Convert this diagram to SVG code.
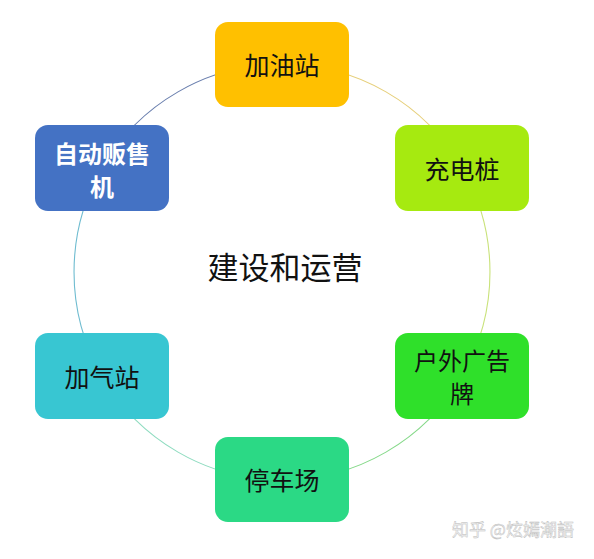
<svg xmlns="http://www.w3.org/2000/svg" width="594" height="559" viewBox="0 0 594 559">
<style>
.arc{fill:none;stroke-width:1.1}
.box{stroke:none}
.lbl{font-family:"Noto Sans CJK SC","Noto Sans",sans-serif;font-size:25px;text-anchor:middle;dominant-baseline:central;fill:#111}
.two{font-size:24px}
.wm{font-family:"Noto Sans CJK SC",sans-serif;font-size:17px;fill:#f4f4f4;stroke:#b8b8b8;stroke-width:0.4}
</style>
<rect width="594" height="559" fill="#ffffff"/>
<g id="connectors">
<path class="arc" stroke="#6a7fae" d="M 282 64 A 208 208 0 0 0 101.9 168"/>
<path class="arc" stroke="#e6cf7a" d="M 282 64 A 208 208 0 0 1 462.1 168"/>
<path class="arc" stroke="#c9e27a" d="M 462.1 168 A 208 208 0 0 1 462.1 376"/>
<path class="arc" stroke="#86d98a" d="M 462.1 376 A 208 208 0 0 1 282 480"/>
<path class="arc" stroke="#8fdcc0" d="M 282 480 A 208 208 0 0 1 101.9 376"/>
<path class="arc" stroke="#6fbcd0" d="M 101.9 376 A 208 208 0 0 1 101.9 168"/>
</g>
<g id="node-jiayouzhan">
<rect class="box" x="215" y="22" width="134" height="85" rx="13" fill="#ffc000"/>
<text class="lbl" x="282" y="64">加油站</text>
</g>
<g id="node-chongdianzhuang">
<rect class="box" x="395" y="125" width="134" height="86" rx="13" fill="#a6ea10"/>
<text class="lbl" x="462" y="168">充电桩</text>
</g>
<g id="node-huwai">
<rect class="box" x="395" y="333" width="134" height="86" rx="13" fill="#2fe02a"/>
<text class="lbl two" x="462" y="359">户外广告</text>
<text class="lbl two" x="462" y="392">牌</text>
</g>
<g id="node-tingchechang">
<rect class="box" x="215" y="437" width="134" height="85" rx="13" fill="#2bd985"/>
<text class="lbl" x="282" y="479">停车场</text>
</g>
<g id="node-jiaqizhan">
<rect class="box" x="35" y="333" width="134" height="86" rx="13" fill="#38c6d2"/>
<text class="lbl" x="102" y="376">加气站</text>
</g>
<g id="node-zidong">
<rect class="box" x="35" y="125" width="134" height="86" rx="13" fill="#4472c4"/>
<text class="lbl two" x="102" y="152" style="fill:#fff;font-weight:bold">自动贩售</text>
<text class="lbl two" x="102" y="185" style="fill:#fff;font-weight:bold">机</text>
</g>
<g id="center">
<text class="lbl" x="285" y="265" style="font-size:31px">建设和运营</text>
</g>
<text class="wm" x="452" y="536">知乎 @炫嫣潮語</text>
</svg>
